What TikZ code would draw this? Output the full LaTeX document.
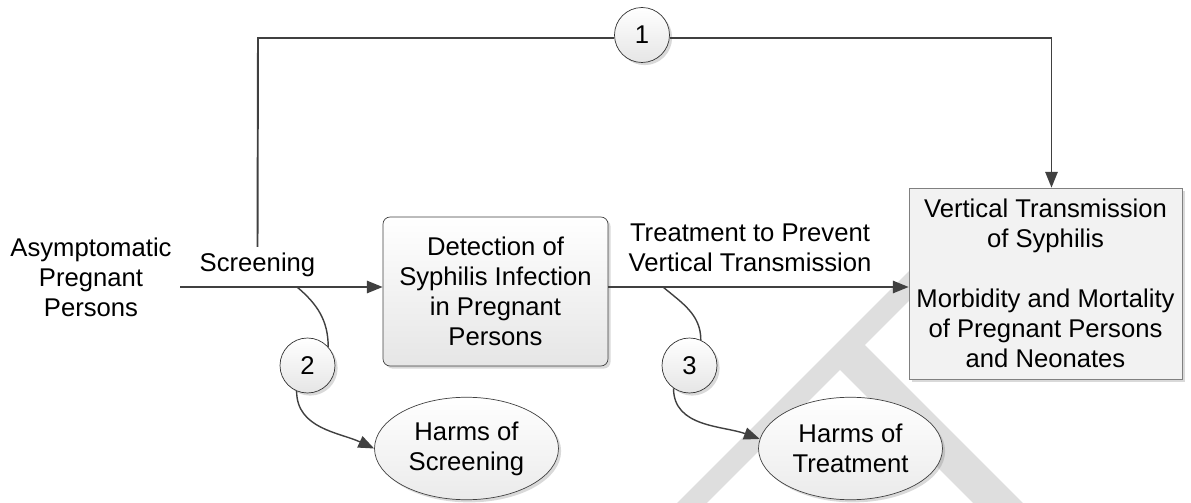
\documentclass[tikz,border=0pt]{standalone}
\usepackage{fontspec}
\setmainfont{Liberation Sans}
\usetikzlibrary{arrows.meta,shapes.geometric,shadows,positioning}

\definecolor{linegray}{HTML}{404040}
\definecolor{edgegray}{HTML}{808080}
\definecolor{markgray}{HTML}{DEDEDE}

\begin{document}
\begin{tikzpicture}[
                    x=0.02cm,
                    y=-0.02cm,
                    >={Triangle[length=9pt,width=7pt]},
                    font=\fontsize{14.6}{17}\selectfont,
                    flow/.style={->,draw=linegray,line width=1.1pt},
                    link/.style={->,draw=linegray,line width=0.8pt},
                    shade/.style={drop shadow={shadow xshift=1.5pt,shadow yshift=-1.5pt,opacity=0.3}}
                ]
                \tikzstyle{box}=[rectangle,rounded corners=4pt,draw=linegray,top color=white,bottom color=black!10,shade,
                                 align=center,minimum width=4.5cm,minimum height=2.98cm]
                \tikzstyle{goal}=[rectangle,draw=edgegray,fill=black!5,shade,align=center,inner sep=2pt,
                                  minimum width=5.46cm,minimum height=3.82cm]
                \tikzstyle{harm}=[ellipse,draw=linegray,top color=white,bottom color=black!8,shade,align=center,
                                  inner sep=0pt,minimum width=3.68cm,minimum height=2.05cm]
                \tikzstyle{kq}=[circle,draw=black!80,top color=white,bottom color=black!10,shade,
                                inner sep=0pt,minimum size=1.1cm]

                \useasboundingbox (0,0) rectangle (1191,503);

                \begin{scope}
                    \clip (0,0) rectangle (1191,503);
                    \draw[markgray,line width=12pt] (680,515) -- (935,260);
                    \draw[markgray,line width=20pt] (845,350) -- (1020,525);
                \end{scope}

                \node[align=center]  (pop)     at (91,277)      {Asymptomatic\\Pregnant\\Persons};
                \node[box]           (detect)  at (495.5,291.5) {Detection of\\Syphilis Infection\\in Pregnant\\Persons};
                \node[goal]          (outcome) at (1045.5,283.5) {Vertical Transmission\\of Syphilis\\[17pt]Morbidity and Mortality\\of Pregnant Persons\\and Neonates};
                \node[harm]          (hs)      at (466.5,448.5) {Harms of\\Screening};
                \node[harm]          (ht)      at (850.5,448.5) {Harms of\\Treatment};
                \node[kq]            (k1)      at (642,35)      {1};
                \node[kq]            (k2)      at (307.5,365.5) {2};
                \node[kq]            (k3)      at (689.5,365.5) {3};
                \node                (scr)     at (257.5,265)   {Screening};
                \node[align=center]  (trt)     at (750,248)     {Treatment to Prevent\\Vertical Transmission};

                \coordinate (start)  at (180,287);
                \coordinate (corner) at (258,38);
                \coordinate (b2)     at (297,287);
                \coordinate (b3)     at (663,287);

                \draw[flow] (start) -- (start -| detect.west);
                \draw[flow] (detect.east |- start) -- (outcome.west |- start);
                \draw[flow,-] (scr.north) -- (corner) -- (corner -| k1.west);
                \draw[flow] (corner -| k1.east) -| ([xshift=0.12cm]outcome.north);

                \path
                (b2)       edge [link,-,out=-40,in=90]  (k2.42)
                (k2.-113)  edge [link,out=-90,in=155]   (hs.west)
                (b3)       edge [link,-,out=-40,in=90]  (k3.66)
                (k3.-125)  edge [link,out=-90,in=160]   (ht.174)
                ;
            \end{tikzpicture}
\end{document}
